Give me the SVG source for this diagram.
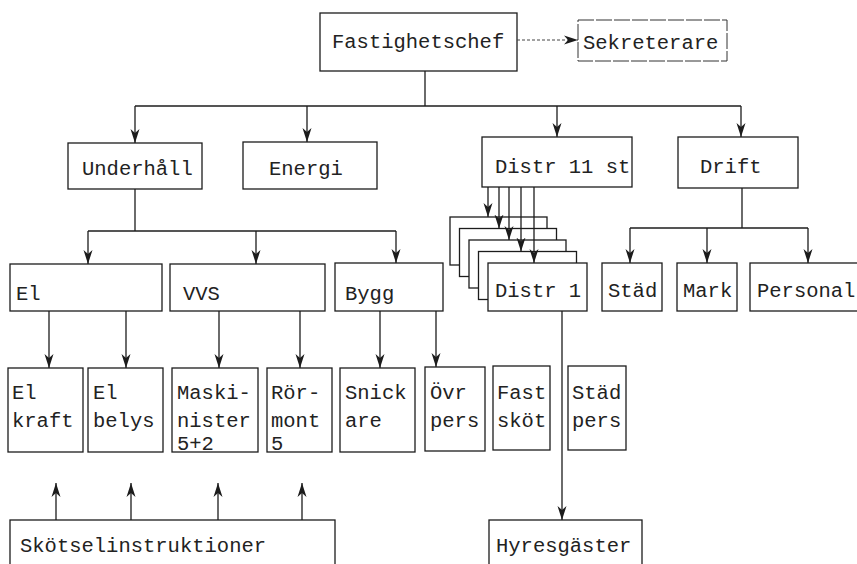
<svg xmlns="http://www.w3.org/2000/svg" width="857" height="564" viewBox="0 0 857 564">
<style>
rect.b{fill:#fff;stroke:#1c1c1c;stroke-width:1.3}
rect.d{fill:#fff;stroke:#333;stroke-width:1;stroke-dasharray:16 2}
text{font-family:"Liberation Mono","DejaVu Sans Mono",monospace;font-size:20.5px;fill:#222}
.c line,.c path{stroke:#1c1c1c;stroke-width:1.3;fill:none}
.c .a{marker-end:url(#ah)}
.c .dash{stroke-dasharray:3 2;stroke:#444;stroke-width:1}
</style>
<defs>
<marker id="ah" markerUnits="userSpaceOnUse" markerWidth="15" markerHeight="11" viewBox="0 0 15 11" refX="14" refY="5.5" orient="auto">
<path d="M0,1 L14,5.5 L0,10 L4,5.5 Z" fill="#1c1c1c"/>
</marker>
</defs>
<rect width="857" height="564" fill="#fff"/>

<g id="fastighetschef"><rect class="b" x="320" y="13" width="197" height="58"/><text x="332" y="48">Fastighetschef</text></g>
<g id="sekreterare"><rect class="d" x="578" y="20" width="149" height="41"/><text x="583" y="49">Sekreterare</text></g>
<g id="underhall"><rect class="b" x="68" y="143" width="134" height="46"/><text x="82" y="175">Underhåll</text></g>
<g id="energi"><rect class="b" x="243" y="142" width="134" height="47"/><text x="269" y="175">Energi</text></g>
<g id="distr11"><rect class="b" x="482" y="137" width="150" height="50"/><text x="495" y="173">Distr 11 st</text></g>
<g id="drift"><rect class="b" x="678" y="137" width="120" height="51"/><text x="700" y="173">Drift</text></g>
<g id="el"><rect class="b" x="10" y="264" width="152" height="47"/><text x="16" y="300">El</text></g>
<g id="vvs"><rect class="b" x="170" y="264" width="155" height="47"/><text x="183" y="300">VVS</text></g>
<g id="bygg"><rect class="b" x="335" y="263" width="108" height="48"/><text x="345" y="300">Bygg</text></g>
<g id="distr-stack">
<rect class="b" x="450" y="217" width="97" height="48"/>
<rect class="b" x="459.5" y="228.5" width="97" height="48"/>
<rect class="b" x="469" y="240" width="97" height="48"/>
<rect class="b" x="478.5" y="251.5" width="98" height="48"/>
</g>
<g id="distr1"><rect class="b" x="488" y="263" width="99" height="48"/><text x="495" y="297">Distr 1</text></g>
<g id="stad"><rect class="b" x="602" y="263" width="60" height="48"/><text x="608" y="297">Städ</text></g>
<g id="mark"><rect class="b" x="677" y="263" width="60" height="48"/><text x="683" y="297">Mark</text></g>
<g id="personal"><rect class="b" x="750" y="263" width="120" height="48"/><text x="757" y="297">Personal</text></g>

<g id="elkraft"><rect class="b" x="8" y="368" width="75" height="84"/><text x="12" y="399">El</text><text x="12" y="427">kraft</text></g>
<g id="elbelys"><rect class="b" x="88" y="368" width="75" height="84"/><text x="93" y="399">El</text><text x="93" y="427">belys</text></g>
<g id="maskinister"><rect class="b" x="172" y="368" width="86" height="84"/><text x="177" y="399">Maski-</text><text x="177" y="427">nister</text><text x="177" y="450">5+2</text></g>
<g id="rormont"><rect class="b" x="267" y="368" width="65" height="84"/><text x="271" y="399">Rör-</text><text x="271" y="427">mont</text><text x="271" y="450">5</text></g>
<g id="snickare"><rect class="b" x="340" y="368" width="75" height="84"/><text x="345" y="399">Snick</text><text x="345" y="427">are</text></g>
<g id="ovrpers"><rect class="b" x="425" y="367" width="60" height="84"/><text x="430" y="399">Övr</text><text x="430" y="427">pers</text></g>
<g id="fastskot"><rect class="b" x="493" y="366" width="57" height="84"/><text x="497" y="399">Fast</text><text x="497" y="427">sköt</text></g>
<g id="stadpers"><rect class="b" x="568" y="366" width="58" height="84"/><text x="572" y="399">Städ</text><text x="572" y="427">pers</text></g>

<g id="skotselinstruktioner"><rect class="b" x="10" y="520" width="325" height="60"/><text x="20" y="552">Skötselinstruktioner</text></g>
<g id="hyresgaster"><rect class="b" x="489" y="520" width="153" height="60"/><text x="496" y="552">Hyresgäster</text></g>

<g id="connectors" class="c">
<line class="a dash" x1="517" y1="40" x2="578" y2="40"/>
<line x1="425" y1="71" x2="425" y2="106"/>
<line x1="135" y1="106" x2="741" y2="106"/>
<line class="a" x1="135" y1="106" x2="135" y2="143"/>
<line class="a" x1="307" y1="106" x2="307" y2="142"/>
<line class="a" x1="557" y1="106" x2="557" y2="137"/>
<line class="a" x1="741" y1="106" x2="741" y2="137"/>
<line x1="135" y1="189" x2="135" y2="231"/>
<line x1="88" y1="231" x2="396" y2="231"/>
<line class="a" x1="88" y1="231" x2="88" y2="264"/>
<line class="a" x1="256" y1="231" x2="256" y2="264"/>
<line class="a" x1="396" y1="231" x2="396" y2="263"/>
<line x1="742" y1="188" x2="742" y2="228"/>
<line x1="630" y1="228" x2="808" y2="228"/>
<line class="a" x1="630" y1="228" x2="630" y2="263"/>
<line class="a" x1="707" y1="228" x2="707" y2="263"/>
<line class="a" x1="808" y1="228" x2="808" y2="263"/>
<line class="a" x1="488" y1="187" x2="488" y2="217"/>
<line class="a" x1="499" y1="187" x2="499" y2="228.5"/>
<line class="a" x1="509" y1="187" x2="509" y2="240"/>
<line class="a" x1="521" y1="187" x2="521" y2="251.5"/>
<line class="a" x1="534" y1="187" x2="534" y2="263"/>
<line class="a" x1="49" y1="311" x2="49" y2="368"/>
<line class="a" x1="126" y1="311" x2="126" y2="368"/>
<line class="a" x1="219" y1="311" x2="219" y2="368"/>
<line class="a" x1="300" y1="311" x2="300" y2="368"/>
<line class="a" x1="380" y1="311" x2="380" y2="368"/>
<line class="a" x1="436" y1="311" x2="436" y2="367"/>
<line class="a" x1="562" y1="311" x2="562" y2="520"/>
<line class="a" x1="56" y1="520" x2="56" y2="483"/>
<line class="a" x1="131" y1="520" x2="131" y2="483"/>
<line class="a" x1="218" y1="520" x2="218" y2="483"/>
<line class="a" x1="302" y1="520" x2="302" y2="483"/>
</g>
</svg>
